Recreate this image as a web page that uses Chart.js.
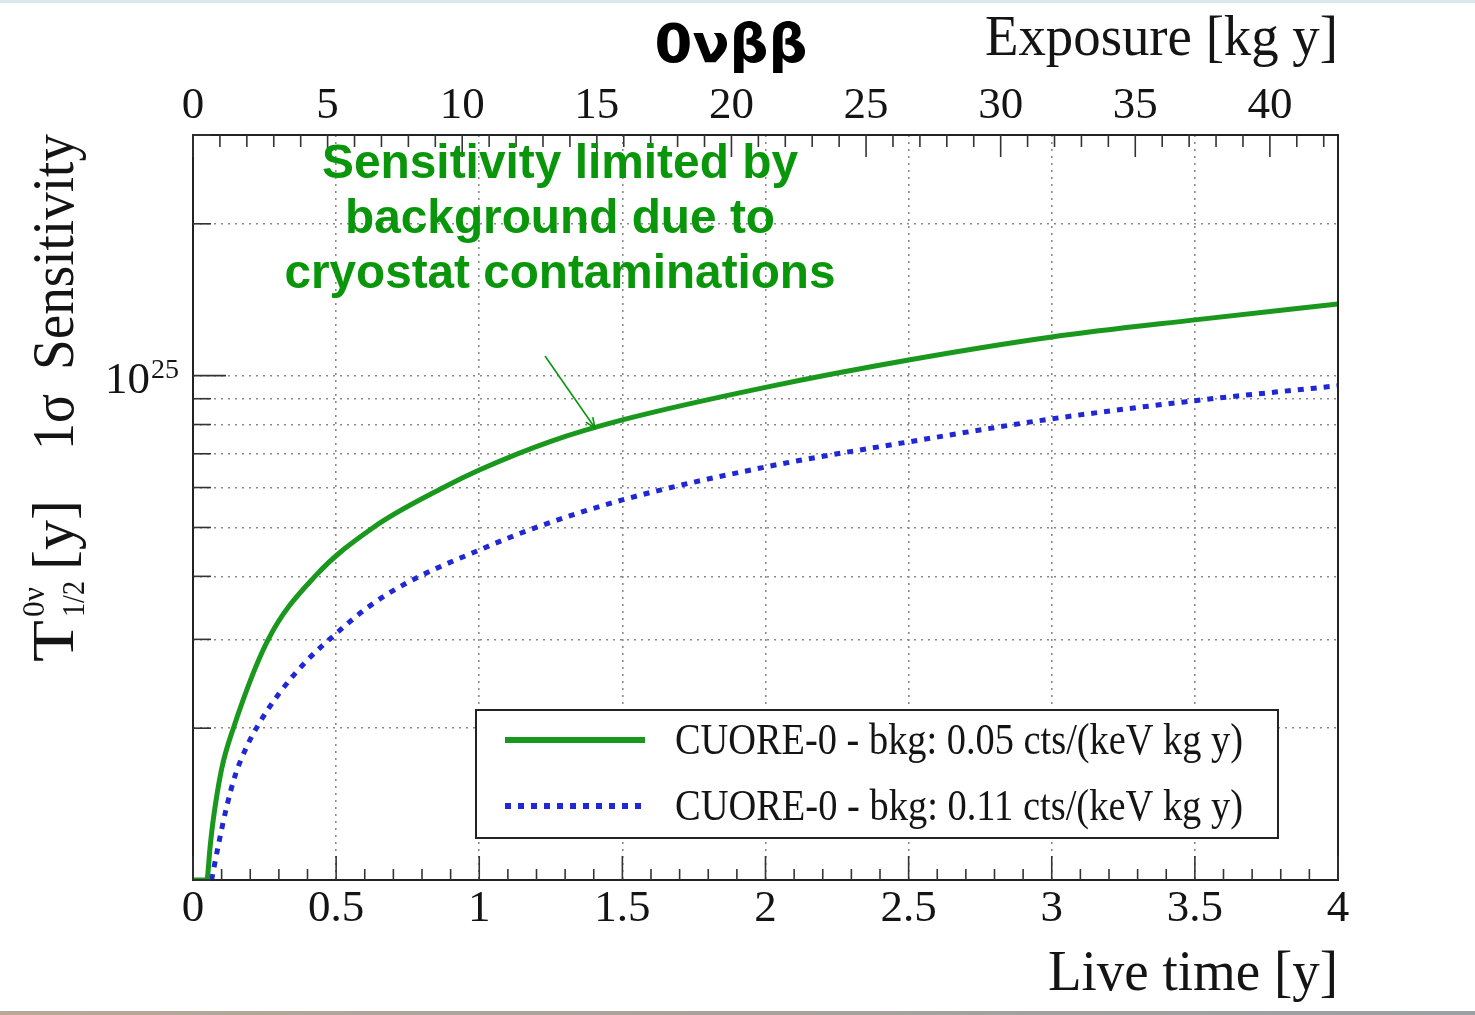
<!DOCTYPE html>
<html><head><meta charset="utf-8">
<script src="https://cdn.jsdelivr.net/npm/chart.js@4.4.1/dist/chart.umd.min.js"></script>
<style>
html,body{margin:0;padding:0;background:#fff;overflow:hidden}
#wrap{position:relative;width:1475px;height:1015px;background:#fff}
#topband{position:absolute;left:0;top:0;width:1475px;height:3px;background:#d6e8ec}
#botband{position:absolute;left:0;bottom:0;width:1475px;height:4px;background:linear-gradient(90deg,#b9a898,#a9a29a 50%,#9aa0a4)}
canvas{position:absolute;left:0;top:0}
</style></head><body>
<div id="wrap"><canvas id="c" width="1475" height="1015"></canvas><div id="topband"></div><div id="botband"></div></div>
<script>
// ---- data ----
const liveTimeA = [0, 0.048, 0.06, 0.071, 0.1, 0.141, 0.263, 0.426, 0.63, 0.875, 1.0, 1.25, 1.5, 2.0, 2.5, 3.0, 3.5, 4.0];
const sensA = [1.0e24, 1.0e24, 1.167e24, 1.32e24, 1.66e24, 2.0e24, 3.0e24, 4.0e24, 5.0e24, 6.0e24, 6.5e24, 7.41e24, 8.17e24, 9.48e24, 1.074e25, 1.193e25, 1.29e25, 1.387e25];
const liveTimeB = [0.065, 0.09, 0.118, 0.147, 0.19, 0.228, 0.3, 0.397, 0.5, 0.607, 0.746, 1.0, 1.19, 1.5, 2.0, 2.5, 3.0, 3.5, 4.0];
const sensB = [1.0e24, 1.183e24, 1.40e24, 1.61e24, 1.85e24, 2.03e24, 2.34e24, 2.72e24, 3.08e24, 3.46e24, 3.88e24, 4.51e24, 4.98e24, 5.67e24, 6.59e24, 7.39e24, 8.21e24, 8.92e24, 9.55e24];
const seriesLabels = ["CUORE-0 - bkg: 0.05 cts/(keV kg y)", "CUORE-0 - bkg: 0.11 cts/(keV kg y)"];
const yTickValues = [1e24, 2e24, 3e24, 4e24, 5e24, 6e24, 7e24, 8e24, 9e24, 1e25, 2e25, 3e25];
const liveTimeRange = [0, 4];
const exposureRange = [0, 42.53];
const sensRange = [1e24, 3e25];
const titleText = "0\u03BD\u03B2\u03B2";
const xTitle = "Live time [y]";
const x2Title = "Exposure [kg y]";
const annotationLines = ["Sensitivity limited by", "background due to", "cryostat contaminations"];

// ---- styles ----
const SERIF = "'Liberation Serif', 'Times New Roman', serif";
const SANS = "'Liberation Sans', Arial, sans-serif";
const GREEN = "rgb(26,152,30)";
const ANNOT_GREEN = "rgb(10,150,10)";
const BLUE = "rgb(32,40,214)";
const TXT = "#141414";
const GRID = "#8a8a8a";

function fitText(ctx, text, x, y, font, width, align) {
  ctx.save();
  ctx.font = font;
  const w = ctx.measureText(text).width;
  const s = width / w;
  ctx.translate(x, y);
  ctx.scale(s, 1);
  ctx.textAlign = align;
  ctx.textBaseline = 'alphabetic';
  ctx.fillText(text, 0, 0);
  ctx.restore();
}

const decor = {
  id: 'decor',
  afterDraw(chart) {
    const ctx = chart.ctx;
    const a = chart.chartArea;
    const xs = chart.scales.x, x2 = chart.scales.x2, ys = chart.scales.y;
    ctx.save();
    // frame
    ctx.strokeStyle = '#222'; ctx.lineWidth = 2;
    ctx.strokeRect(a.left, a.top, a.right - a.left, a.bottom - a.top);
    // bottom ticks (inward)
    ctx.lineWidth = 1.6; ctx.strokeStyle = '#333';
    for (let i = 0; i <= 40; i++) {
      const px = xs.getPixelForValue(i / 10);
      const len = (i % 5 === 0) ? 24 : 11;
      ctx.beginPath(); ctx.moveTo(px, a.bottom); ctx.lineTo(px, a.bottom - len); ctx.stroke();
    }
    // top ticks (inward)
    for (let i = 0; i <= Math.floor(exposureRange[1]); i++) {
      const px = x2.getPixelForValue(i);
      const len = (i % 5 === 0) ? 22 : 12;
      ctx.beginPath(); ctx.moveTo(px, a.top); ctx.lineTo(px, a.top + len); ctx.stroke();
    }
    // left ticks
    yTickValues.forEach(v => {
      const py = ys.getPixelForValue(v);
      const len = Math.abs(Math.log10(v) - 25) < 1e-6 ? 33 : 18;
      ctx.beginPath(); ctx.moveTo(a.left, py); ctx.lineTo(a.left + len, py); ctx.stroke();
    });
    // superscript of 10^25
    ctx.fillStyle = TXT;
    ctx.font = "28px " + SERIF;
    ctx.textAlign = 'left'; ctx.textBaseline = 'alphabetic';
    ctx.fillText("25", 151, ys.getPixelForValue(1e25) + 2);

    // legend
    const lx = 476, ly = 710, lw = 802, lh = 128;
    ctx.fillStyle = '#fff';
    ctx.fillRect(lx, ly, lw, lh);
    ctx.strokeStyle = '#222'; ctx.lineWidth = 2;
    ctx.strokeRect(lx, ly, lw, lh);
    chart.data.datasets.forEach((ds, i) => {
      const cy = ly + 30 + i * 66;
      ctx.save();
      ctx.strokeStyle = ds.borderColor;
      ctx.lineWidth = 6;
      ctx.setLineDash(ds.borderDash || []);
      ctx.beginPath(); ctx.moveTo(505, cy); ctx.lineTo(645, cy); ctx.stroke();
      ctx.restore();
      ctx.fillStyle = TXT;
      fitText(ctx, ds.label, 675, cy + 14, "45px " + SERIF, 568, 'left');
    });

    // axis titles
    ctx.fillStyle = TXT;
    fitText(ctx, x2Title, 1338, 55, "56px " + SERIF, 353, 'right');
    fitText(ctx, xTitle, 1338, 990, "57px " + SERIF, 290, 'right');
    // main title
    ctx.fillStyle = '#000';
    fitText(ctx, titleText, 731, 62, "bold 54px 'DejaVu Sans', sans-serif", 153, 'center');

    // y title (rotated)
    ctx.save();
    ctx.translate(73, 662);
    ctx.rotate(-Math.PI / 2);
    ctx.fillStyle = TXT;
    fitText(ctx, "T", 0, 0, "60px " + SERIF, 42, 'left');
    fitText(ctx, "0\u03BD", 45, -29, "32px " + SERIF, 30, 'left');
    fitText(ctx, "1/2", 45, 11, "32px " + SERIF, 36, 'left');
    fitText(ctx, "[y]", 92, 0, "60px " + SERIF, 70, 'left');
    fitText(ctx, "1\u03C3", 212, 0, "60px " + SERIF, 56, 'left');
    fitText(ctx, "Sensitivity", 292, 0, "60px " + SERIF, 236, 'left');
    ctx.restore();

    // annotation
    ctx.fillStyle = ANNOT_GREEN;
    const annW = [476, 430, 551];
    annotationLines.forEach((t, i) => {
      fitText(ctx, t, 560, 178 + i * 55, "bold 48px " + SANS, annW[i], 'center');
    });
    // arrow
    ctx.strokeStyle = ANNOT_GREEN; ctx.lineWidth = 1.6;
    const ax0 = 545, ay0 = 356, ax1 = 595, ay1 = 428;
    ctx.beginPath(); ctx.moveTo(ax0, ay0); ctx.lineTo(ax1, ay1); ctx.stroke();
    const ang = Math.atan2(ay1 - ay0, ax1 - ax0);
    ctx.beginPath();
    ctx.moveTo(ax1 - 11 * Math.cos(ang - 0.4), ay1 - 11 * Math.sin(ang - 0.4));
    ctx.lineTo(ax1, ay1);
    ctx.lineTo(ax1 - 11 * Math.cos(ang + 0.4), ay1 - 11 * Math.sin(ang + 0.4));
    ctx.stroke();
    ctx.restore();
  }
};

const edgeTransparent = (lo, hi) => (c) => {
  if (!c.tick) return GRID;
  const v = c.tick.value;
  return (Math.abs(v - lo) < 1e-9 * Math.max(1, Math.abs(lo)) || Math.abs(v - hi) < 1e-9 * Math.abs(hi)) ? 'rgba(0,0,0,0)' : GRID;
};

new Chart(document.getElementById('c').getContext('2d'), {
  type: 'line',
  data: {
    datasets: [
      { label: seriesLabels[0], data: liveTimeA.map((t, i) => ({ x: t, y: sensA[i] })),
        borderColor: GREEN, borderWidth: 5, pointRadius: 0, fill: false,
        cubicInterpolationMode: 'monotone', xAxisID: 'x', yAxisID: 'y' },
      { label: seriesLabels[1], data: liveTimeB.map((t, i) => ({ x: t, y: sensB[i] })),
        borderColor: BLUE, borderWidth: 5, borderDash: [6, 7], pointRadius: 0, fill: false,
        cubicInterpolationMode: 'monotone', xAxisID: 'x', yAxisID: 'y' }
    ]
  },
  options: {
    responsive: false, animation: false, devicePixelRatio: 1,
    layout: { padding: { left: 0, top: 0, right: 137, bottom: 0 } },
    plugins: { legend: { display: false }, tooltip: { enabled: false }, title: { display: false } },
    scales: {
      x: {
        type: 'linear', position: 'bottom', min: liveTimeRange[0], max: liveTimeRange[1],
        afterFit(s) { s.height = 135; },
        ticks: { stepSize: 0.5, autoSkip: false, maxRotation: 0, padding: 2, color: TXT,
          font: { family: SERIF, size: 45 }, callback: (v) => String(Math.round(v * 10) / 10) },
        grid: { color: edgeTransparent(0, 4), lineWidth: 1.6, drawTicks: false },
        border: { display: false, dash: [2, 5] }
      },
      x2: {
        type: 'linear', position: 'top', min: exposureRange[0], max: exposureRange[1],
        afterFit(s) { s.height = 135; },
        ticks: { stepSize: 5, autoSkip: false, maxRotation: 0, padding: 2, color: TXT, includeBounds: false,
          font: { family: SERIF, size: 45 }, callback: (v) => String(Math.round(v)) },
        grid: { drawOnChartArea: false, drawTicks: false },
        border: { display: false }
      },
      y: {
        type: 'logarithmic', position: 'left', min: sensRange[0], max: sensRange[1],
        afterFit(s) { s.width = 193; },
        afterBuildTicks(s) { s.ticks = yTickValues.map(v => ({ value: v })); },
        ticks: { autoSkip: false, padding: 43, labelOffset: 6, color: TXT,
          font: { family: SERIF, size: 45 },
          callback: (v) => (Math.abs(Math.log10(v) - 25) < 1e-6 ? '10' : '') },
        grid: { color: edgeTransparent(1e24, 3e25), lineWidth: 1.6, drawTicks: false },
        border: { display: false, dash: [2, 5] }
      }
    }
  },
  plugins: [decor]
});
</script>
</body></html>
